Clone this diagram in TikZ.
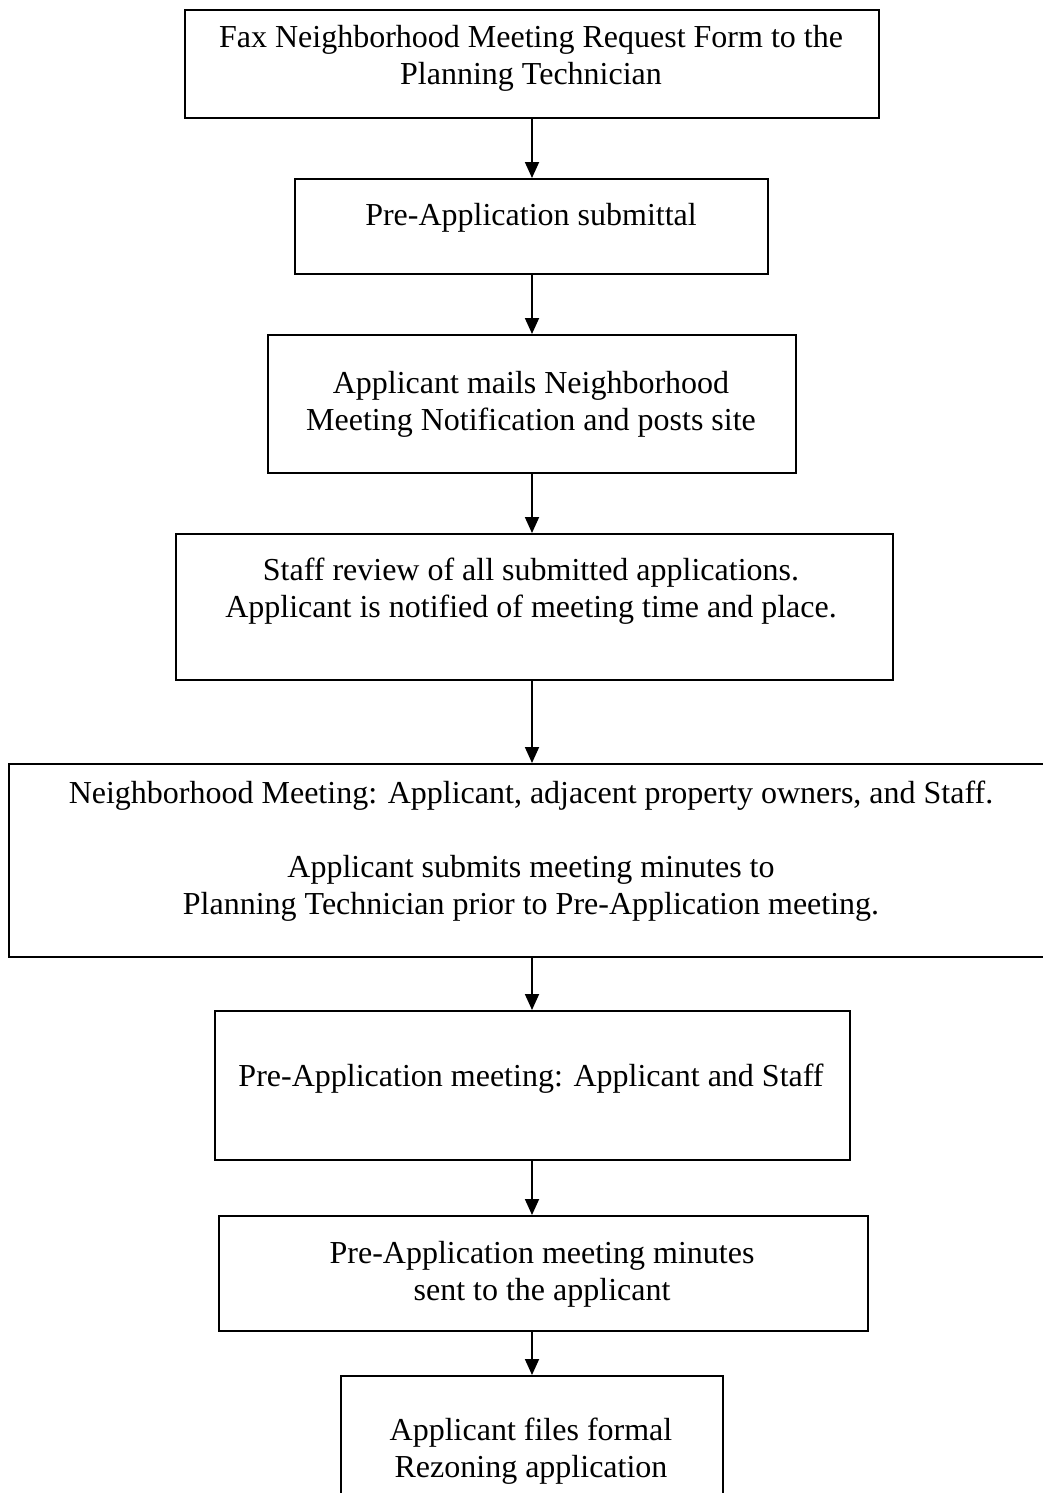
\documentclass[tikz,border=0pt]{standalone}
\usepackage{fontspec}
\setmainfont{Liberation Serif}
\usetikzlibrary{arrows.meta}
\begin{document}
\begin{tikzpicture}[x=1pt,y=-1pt,
  flowbox/.style={draw=black,line width=1.8pt},
  lbl/.style={anchor=base,inner sep=0pt,font=\fontsize{32}{37}\selectfont},
  conn/.style={line width=1.8pt,-{Triangle[length=16pt,width=14pt]}}]
\useasboundingbox (0,0) rectangle (1042,1493);
\node[flowbox,minimum width=694pt,minimum height=108pt,anchor=north west] (b1) at (184,9) {};
\node[flowbox,minimum width=473pt,minimum height=95pt,anchor=north west] (b2) at (294,178) {};
\node[flowbox,minimum width=528pt,minimum height=138pt,anchor=north west] (b3) at (267,334) {};
\node[flowbox,minimum width=717pt,minimum height=146pt,anchor=north west] (b4) at (175,533) {};
\node[flowbox,minimum width=1042pt,minimum height=193pt,anchor=north west] (b5) at (8,763) {};
\node[flowbox,minimum width=635pt,minimum height=149pt,anchor=north west] (b6) at (214,1010) {};
\node[flowbox,minimum width=649pt,minimum height=115pt,anchor=north west] (b7) at (218,1215) {};
\node[flowbox,minimum width=382pt,minimum height=130pt,anchor=north west] (b8) at (340,1375) {};
\node[lbl] (t1a) at (531,48) {Fax Neighborhood Meeting Request Form to the};
\node[lbl] (t1b) at (531,85) {Planning Technician};
\node[lbl] (t2) at (531,225) {Pre-Application submittal};
\node[lbl] (t3a) at (531,393) {Applicant mails Neighborhood};
\node[lbl] (t3b) at (531,430) {Meeting Notification and posts site};
\node[lbl] (t4a) at (531,580) {Staff review of all submitted applications.};
\node[lbl] (t4b) at (531,617) {Applicant is notified of meeting time and place.};
\node[lbl] (t5a) at (531,803) {Neighborhood Meeting: Applicant, adjacent property owners, and Staff.};
\node[lbl] (t5b) at (531,877) {Applicant submits meeting minutes to};
\node[lbl] (t5c) at (531,914) {Planning Technician prior to Pre-Application meeting.};
\node[lbl] (t6) at (531,1086) {Pre-Application meeting: Applicant and Staff};
\node[lbl] (t7a) at (542,1263) {Pre-Application meeting minutes};
\node[lbl] (t7b) at (542,1300) {sent to the applicant};
\node[lbl] (t8a) at (531,1440) {Applicant files formal};
\node[lbl] (t8b) at (531,1477) {Rezoning application};
\draw[conn] (b1.south -| 532,0) -- (b2.north -| 532,0);
\draw[conn] (b2.south -| 532,0) -- (b3.north -| 532,0);
\draw[conn] (b3.south -| 532,0) -- (b4.north -| 532,0);
\draw[conn] (b4.south -| 532,0) -- (b5.north -| 532,0);
\draw[conn] (b5.south -| 532,0) -- (b6.north -| 532,0);
\draw[conn] (b6.south -| 532,0) -- (b7.north -| 532,0);
\draw[conn] (b7.south -| 532,0) -- (b8.north -| 532,0);
\end{tikzpicture}
\end{document}
